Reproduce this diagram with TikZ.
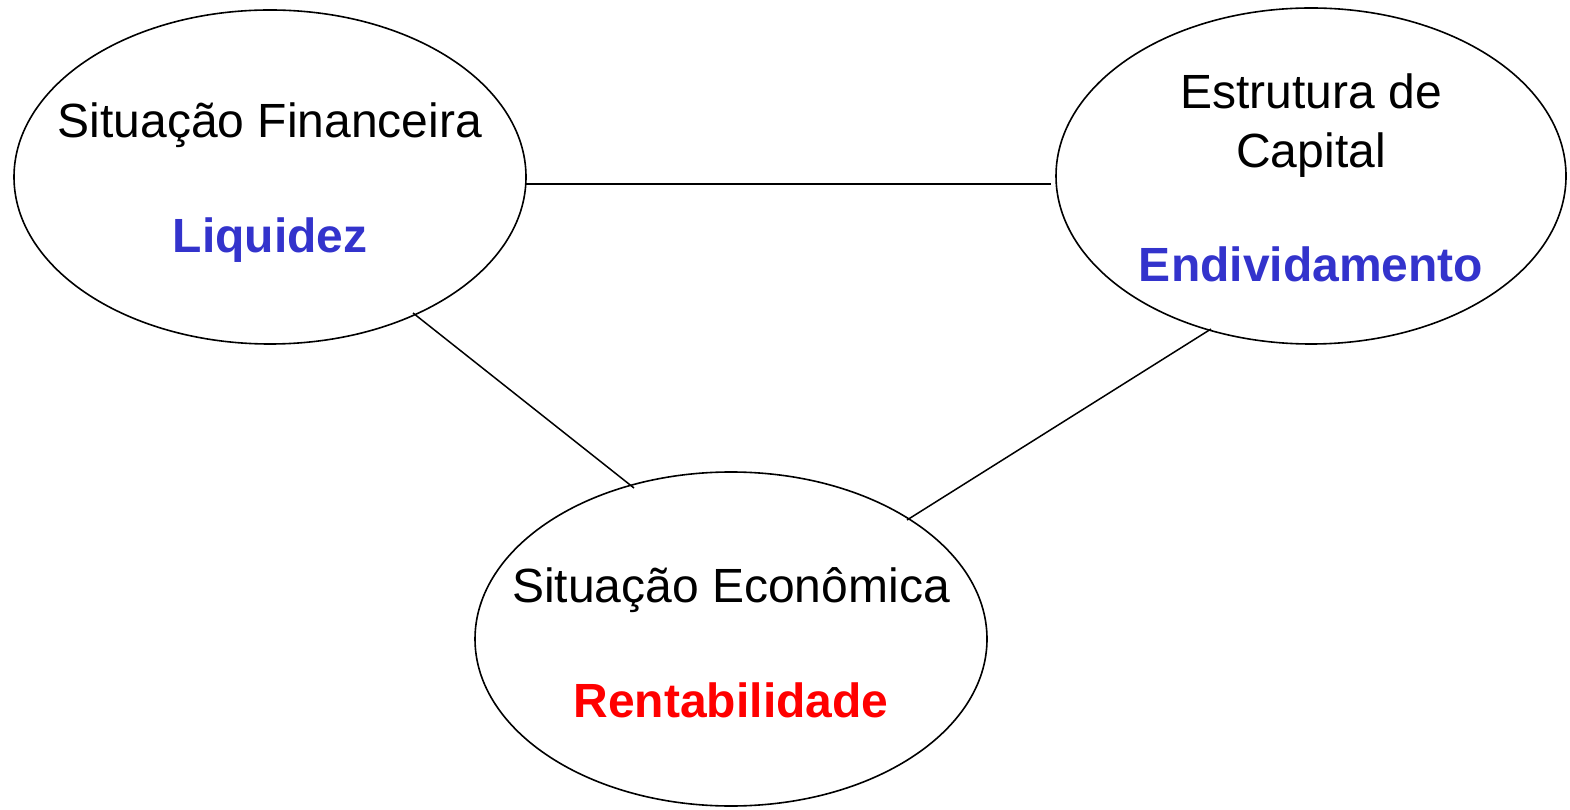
\documentclass[tikz,border=0pt]{standalone}
\usepackage{fontspec}
\setmainfont{Liberation Sans}
\definecolor{kblue}{HTML}{3333CC}
\definecolor{kred}{HTML}{FF0000}
\begin{document}
\begin{tikzpicture}[x=1pt,y=1pt,
  oval/.style={draw=black,line width=1.6pt,ellipse},
  conn/.style={draw=black,line width=1.5pt},
  lab/.style={anchor=base,inner sep=0pt,font=\fontsize{48}{58}\selectfont},
  key/.style={anchor=base,inner sep=0pt,font=\fontsize{48}{58}\selectfont\bfseries}]
\useasboundingbox (0,0) rectangle (1570,809);
\draw[line width=1.6pt] (270,632) ellipse [x radius=256, y radius=167];
\draw[line width=1.6pt] (1311,633) ellipse [x radius=255, y radius=168];
\draw[line width=1.6pt] (731,170) ellipse [x radius=256, y radius=167];
\coordinate (a1) at (526,625);
\coordinate (a2) at (1051,625);
\coordinate (b1) at (413,496);
\coordinate (b2) at (634,321);
\coordinate (c1) at (1211,480);
\coordinate (c2) at (907,289);
\draw[conn] (a1) -- (a2);
\draw[conn] (b1) -- (b2);
\draw[conn] (c1) -- (c2);
\node[lab] (sf) at (270,671) {Situação Financeira};
\node[key,text=kblue] (liq) at (270,556) {Liquidez};
\node[lab] (ec1) at (1311,700) {Estrutura de};
\node[lab] (ec2) at (1311,641) {Capital};
\node[key,text=kblue] (end) at (1311,527) {Endividamento};
\node[lab] (se) at (731,207) {Situação Econômica};
\node[key,text=kred] (ren) at (731,92) {Rentabilidade};
\end{tikzpicture}
\end{document}
